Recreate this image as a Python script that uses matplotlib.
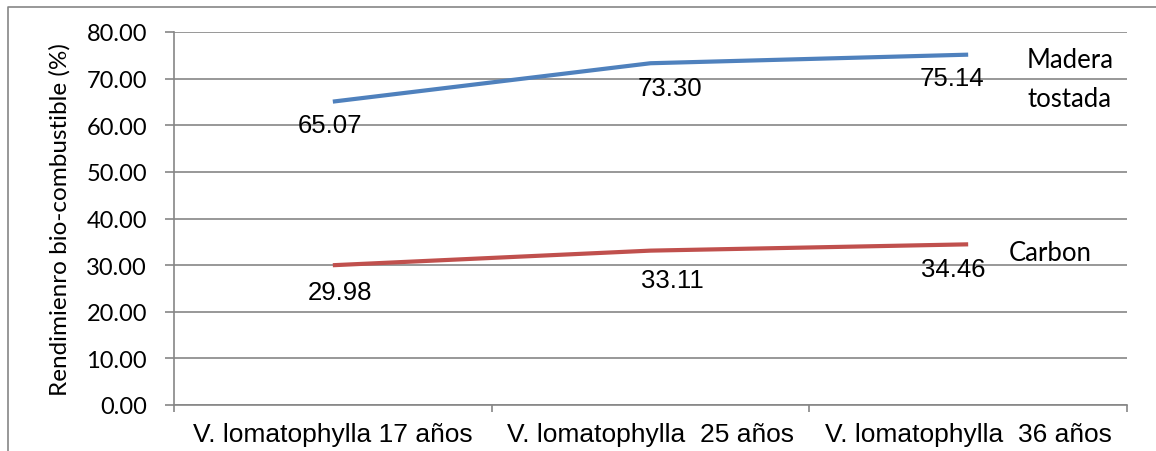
import matplotlib.pyplot as plt
from matplotlib.lines import Line2D

categories = ["V. lomatophylla 17 años", "V. lomatophylla  25 años", "V. lomatophylla  36 años"]
madera = [65.07, 73.30, 75.14]
carbon = [29.98, 33.11, 34.46]
yticks = [0, 10, 20, 30, 40, 50, 60, 70, 80]

# label offsets in points (dx, dy) relative to each point
madera_off = [(-2, -17), (14, -18), (-12, -17)]
carbon_off = [(5, -19), (16, -21), (-11, -18)]

grey = "#868686"
blue = "#4F81BD"
red = "#C0504D"

fig = plt.figure(figsize=(11.56, 4.52), dpi=100)
ax = fig.add_axes([174 / 1156, 1 - 406 / 452, (1127 - 174) / 1156, (406 - 33) / 452])

x = [i + 0.5 for i in range(len(categories))]
ax.plot(x, madera, color=blue, lw=3, solid_capstyle="butt")
ax.plot(x, carbon, color=red, lw=3, solid_capstyle="butt")

for xi, v, off in zip(x, madera, madera_off):
    ax.annotate(f"{v:.2f}", (xi, v), xytext=off, textcoords="offset points",
                ha="center", va="center", fontsize=18.5, family="Liberation Sans")
for xi, v, off in zip(x, carbon, carbon_off):
    ax.annotate(f"{v:.2f}", (xi, v), xytext=off, textcoords="offset points",
                ha="center", va="center", fontsize=18.5, family="Liberation Sans")

ax.set_xlim(0, 3)
ax.set_ylim(0, 80)
ax.set_yticks(yticks)
ax.set_yticklabels([f"{t:.2f}" for t in yticks], family="Lato", fontsize=17)
ax.yaxis.grid(True, color=grey, lw=1.2)
ax.set_axisbelow(True)

ax.set_xticks([0, 1, 2, 3])
ax.set_xticklabels([])
ax.set_xticks(x, minor=True)
ax.set_xticklabels(categories, minor=True, family="Liberation Sans", fontsize=19)
ax.tick_params(axis="x", which="major", length=5, color=grey, width=1.2, direction="out")
ax.tick_params(axis="x", which="minor", length=0, pad=12)
ax.tick_params(axis="y", length=6.5, color=grey, width=1.2, pad=13)

for s in ["top", "right"]:
    ax.spines[s].set_visible(False)
for s in ["left", "bottom"]:
    ax.spines[s].set_color(grey)
    ax.spines[s].set_linewidth(1.2)

ax.set_ylabel("Rendimienro bio-combustible (%)", family="Lato", fontsize=17.5, labelpad=11)

ytr = ax.get_yaxis_transform()
ax.text(0.940, 74.0, "Madera", transform=ytr, ha="center", va="center", family="Lato", fontsize=18.5)
ax.text(0.940, 65.7, "tostada", transform=ytr, ha="center", va="center", family="Lato", fontsize=18.5)
ax.text(0.919, 32.8, "Carbon", transform=ytr, ha="center", va="center", family="Lato", fontsize=18.5)

# outer chart frame (only top and left visible)
fig.add_artist(Line2D([8 / 1156, 8 / 1156, 1], [0, 1 - 8 / 452, 1 - 8 / 452],
                      transform=fig.transFigure, color=grey, lw=1.2))

fig.savefig("out.png", dpi=100)
